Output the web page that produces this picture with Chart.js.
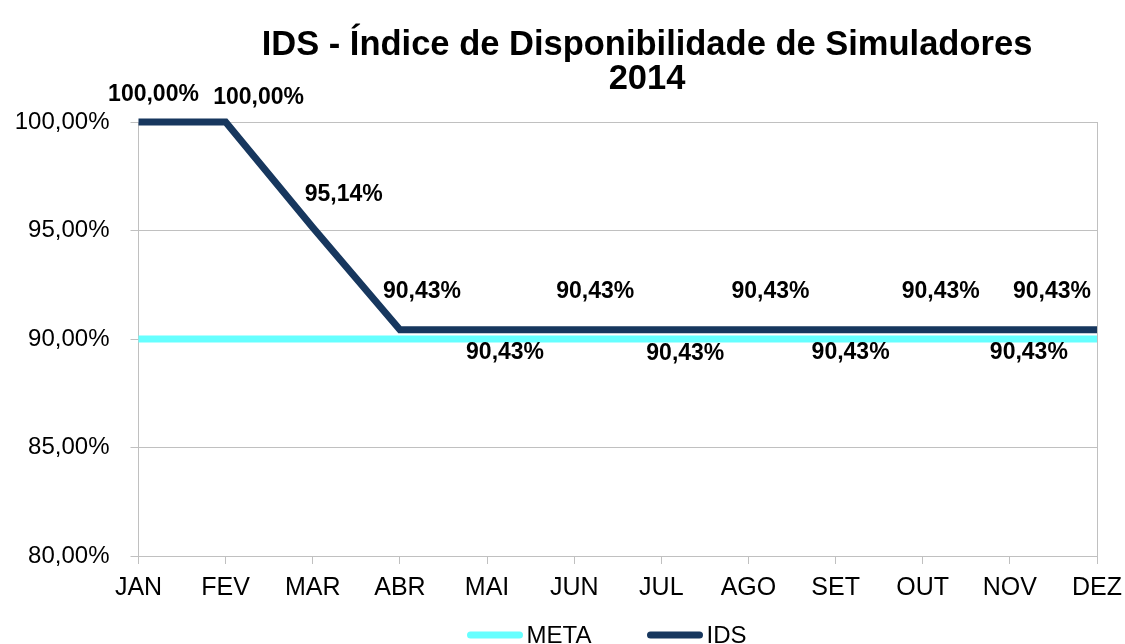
<!DOCTYPE html>
<html>
<head>
<meta charset="utf-8">
<script src="https://cdn.jsdelivr.net/npm/chart.js@4.4.1/dist/chart.umd.min.js"></script>
<style>
  html, body { margin: 0; padding: 0; background: #ffffff; }
  #wrap { width: 1125px; height: 644px; position: relative; }
</style>
</head>
<body>
<div id="wrap"><canvas id="c"></canvas></div>
<script>
// ---- Data ----
const months = ["JAN","FEV","MAR","ABR","MAI","JUN","JUL","AGO","SET","OUT","NOV","DEZ"];
const metaValues = [90,90,90,90,90,90,90,90,90,90,90,90];
const idsValues = [100,100,95.14,90.43,90.43,90.43,90.43,90.43,90.43,90.43,90.43,90.43];
const titleLines = ["IDS - Índice de Disponibilidade de Simuladores", "2014"];
const yTicksMin = 80, yTicksMax = 100, yTicksStep = 5;

// ---- Label placement (style only) ----
const labelDx = [15,33,31,22,18,21,24,22,15,18,19,-45];
const labelDy = [-27,-24,-33,-38,23,-38,24,-38,23,-38,23,-38];

const FONT = "'Liberation Sans', Arial, Helvetica, sans-serif";
const GRID = '#c0c0c0';

function fmtPct(v) {
  return v.toFixed(2).replace('.', ',') + '%';
}

const titlePlugin = {
  id: 'customTitle',
  afterDraw(chart) {
    const ctx = chart.ctx;
    ctx.save();
    ctx.fillStyle = '#000';
    ctx.font = 'bold 34.5px ' + FONT;
    ctx.textAlign = 'center';
    ctx.textBaseline = 'alphabetic';
    ctx.fillText(titleLines[0], 647, 55);
    ctx.fillText(titleLines[1], 647, 89);
    ctx.restore();
  }
};

const dataLabelPlugin = {
  id: 'dataLabels',
  afterDatasetsDraw(chart) {
    const ctx = chart.ctx;
    const dsIndex = chart.data.datasets.findIndex(d => d.label === 'IDS');
    const meta = chart.getDatasetMeta(dsIndex);
    const values = chart.data.datasets[dsIndex].data;
    ctx.save();
    ctx.fillStyle = '#000';
    ctx.font = 'bold 23px ' + FONT;
    ctx.textAlign = 'center';
    ctx.textBaseline = 'middle';
    meta.data.forEach((pt, i) => {
      ctx.fillText(fmtPct(values[i]), pt.x + labelDx[i], pt.y + labelDy[i]);
    });
    ctx.restore();
  }
};

const legendPlugin = {
  id: 'customLegend',
  afterDraw(chart) {
    const ctx = chart.ctx;
    const starts = [470.5, 650.5];
    const lineLen = 49;
    const y = 635;
    ctx.save();
    ctx.font = '24px ' + FONT;
    ctx.textBaseline = 'alphabetic';
    ctx.textAlign = 'left';
    chart.data.datasets.forEach((ds, i) => {
      ctx.strokeStyle = ds.borderColor;
      ctx.lineWidth = 7;
      ctx.lineCap = 'round';
      ctx.beginPath();
      ctx.moveTo(starts[i], y);
      ctx.lineTo(starts[i] + lineLen, y);
      ctx.stroke();
      ctx.fillStyle = '#000';
      ctx.fillText(ds.label, starts[i] + lineLen + 7, 643);
    });
    ctx.restore();
  }
};

new Chart(document.getElementById('c'), {
  type: 'line',
  data: {
    labels: months,
    datasets: [
      {
        label: 'META',
        data: metaValues,
        borderColor: '#66ffff',
        backgroundColor: '#66ffff',
        borderWidth: 7,
        pointRadius: 0,
        pointHoverRadius: 0,
        tension: 0,
        borderCapStyle: 'butt',
        borderJoinStyle: 'miter'
      },
      {
        label: 'IDS',
        data: idsValues,
        borderColor: '#17375e',
        backgroundColor: '#17375e',
        borderWidth: 7,
        pointRadius: 0,
        pointHoverRadius: 0,
        tension: 0,
        borderCapStyle: 'butt',
        borderJoinStyle: 'miter'
      }
    ]
  },
  options: {
    responsive: true,
    maintainAspectRatio: false,
    animation: false,
    clip: false,
    layout: { padding: { top: 122, left: 14, right: 28, bottom: 32 } },
    plugins: {
      legend: { display: false },
      title: { display: false },
      tooltip: { enabled: false }
    },
    scales: {
      x: {
        offset: false,
        afterFit: (s) => { s.paddingLeft = 0; s.paddingRight = 0; },
        grid: {
          drawOnChartArea: true,
          color: (c) => (c.index === months.length - 1 ? GRID : 'rgba(0,0,0,0)'),
          tickColor: GRID,
          tickLength: 8,
          lineWidth: 1
        },
        border: { display: true, color: GRID, width: 1 },
        ticks: {
          color: '#000',
          font: { family: FONT, size: 25 },
          padding: 9,
          maxRotation: 0,
          autoSkip: false
        }
      },
      y: {
        min: yTicksMin,
        max: yTicksMax,
        afterFit: (s) => { s.width = 124.5; },
        grid: {
          color: GRID,
          tickColor: GRID,
          tickLength: 8,
          lineWidth: 1
        },
        border: { display: true, color: GRID, width: 1 },
        ticks: {
          stepSize: yTicksStep,
          color: '#000',
          font: { family: FONT, size: 24 },
          padding: 21,
          callback: (v) => fmtPct(v)
        }
      }
    }
  },
  plugins: [titlePlugin, dataLabelPlugin, legendPlugin]
});
</script>
</body>
</html>
